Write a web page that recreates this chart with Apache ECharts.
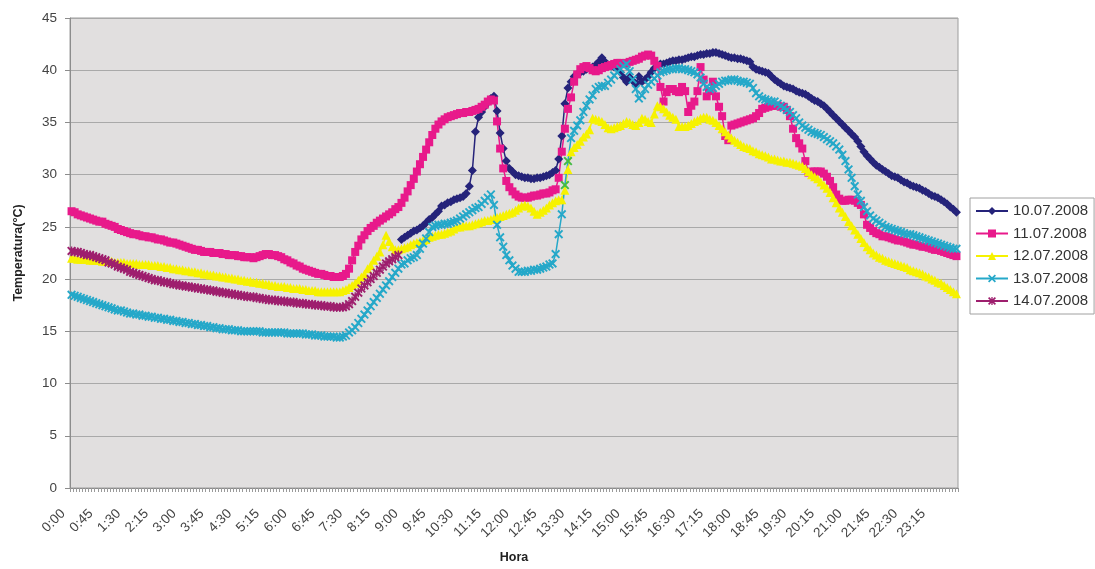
<!DOCTYPE html>
<html>
<head>
<meta charset="utf-8">
<title>Temperatura</title>
<script src="https://cdn.jsdelivr.net/npm/echarts@6/dist/echarts.min.js"></script>
<style>
  html, body { margin: 0; padding: 0; background: #ffffff; }
  #chart { width: 1095px; height: 569px; }
</style>
</head>
<body>
<div id="chart"></div>
<script>
// Readings every 5 minutes, 0:00 .. 23:55 (288 slots); one row per hour.
const hours = [];
for (let h = 0; h < 24; h++) {
  for (let m = 0; m < 60; m += 5) hours.push(h + ':' + (m < 10 ? '0' : '') + m);
}

const seriesNames = ['10.07.2008', '11.07.2008', '12.07.2008', '13.07.2008', '14.07.2008'];

// 10.07.2008: logging starts at 8:55
const t10 = [].concat(Array(107).fill(null), [
  23.8,
  24.0,24.2,24.4,24.6,24.7,24.9,25.1,25.4,25.7,25.9,26.2,26.5,
  27.0,27.1,27.3,27.4,27.6,27.7,27.8,27.9,28.2,28.9,30.4,34.1,
  35.5,36.0,36.5,36.9,37.3,37.5,36.1,34.0,32.5,31.3,30.6,30.3,
  30.0,29.9,29.8,29.7,29.7,29.6,29.6,29.7,29.7,29.8,29.9,30.0,
  30.2,30.4,31.5,33.7,36.8,38.3,38.9,39.4,39.6,39.8,39.9,40.1,
  40.2,40.3,40.5,40.8,41.2,40.8,40.5,40.4,40.3,40.3,39.8,39.3,
  38.9,39.3,39.0,38.7,39.4,38.9,39.1,39.4,39.8,40.2,40.4,40.6,
  40.6,40.7,40.8,40.9,40.9,41.0,41.0,41.1,41.2,41.3,41.3,41.4,
  41.5,41.5,41.6,41.6,41.7,41.7,41.6,41.5,41.4,41.3,41.2,41.2,
  41.1,41.1,41.0,40.9,40.8,40.3,40.1,40.0,39.9,39.8,39.7,39.4,
  39.1,38.9,38.7,38.5,38.4,38.3,38.2,38.0,37.9,37.8,37.7,37.5,
  37.3,37.1,37.0,36.8,36.6,36.3,36.0,35.7,35.4,35.1,34.8,34.5,
  34.2,33.9,33.6,33.2,32.7,32.2,31.8,31.5,31.2,30.9,30.7,30.5,
  30.3,30.1,29.9,29.8,29.7,29.5,29.3,29.2,29.0,28.9,28.8,28.7,
  28.5,28.4,28.2,28.0,27.9,27.8,27.6,27.4,27.2,26.9,26.7,26.4
]);

const t11 = [
  26.5,26.4,26.2,26.1,26.0,25.9,25.8,25.7,25.6,25.5,25.5,25.3,
  25.2,25.1,25.0,24.8,24.7,24.6,24.5,24.4,24.3,24.3,24.2,24.1,
  24.1,24.0,24.0,23.9,23.8,23.8,23.7,23.6,23.5,23.5,23.4,23.3,
  23.2,23.1,23.0,22.9,22.8,22.8,22.7,22.6,22.6,22.6,22.5,22.5,
  22.5,22.4,22.4,22.3,22.3,22.3,22.2,22.2,22.1,22.1,22.1,22.0,
  22.1,22.2,22.3,22.4,22.4,22.3,22.3,22.2,22.1,21.9,21.8,21.6,
  21.5,21.3,21.2,21.0,20.9,20.8,20.7,20.6,20.5,20.5,20.4,20.3,
  20.3,20.2,20.2,20.2,20.3,20.5,21.0,21.8,22.6,23.2,23.8,24.2,
  24.6,24.9,25.1,25.4,25.6,25.8,26.0,26.2,26.4,26.7,26.9,27.3,
  27.8,28.4,29.0,29.6,30.3,31.0,31.7,32.4,33.1,33.8,34.4,34.8,
  35.1,35.3,35.5,35.6,35.7,35.8,35.9,35.9,36.0,36.0,36.1,36.2,
  36.3,36.5,36.7,37.0,37.2,37.1,35.1,32.5,30.6,29.4,28.8,28.4,
  28.1,27.9,27.8,27.8,27.8,27.9,28.0,28.0,28.1,28.2,28.2,28.3,
  28.5,28.6,29.7,32.2,34.4,36.3,37.4,38.9,39.6,40.1,40.3,40.4,
  40.2,40.0,39.9,40.0,40.2,40.3,40.4,40.5,40.6,40.7,40.7,40.6,
  40.7,40.8,40.9,41.0,41.1,41.3,41.4,41.5,41.4,40.9,40.4,38.4,
  37.0,37.9,38.2,38.2,38.0,37.9,38.4,38.0,36.0,36.6,37.0,38.0,
  40.3,39.1,37.5,38.0,38.9,37.5,36.5,35.6,33.7,33.3,34.7,34.8,
  34.9,35.0,35.1,35.2,35.3,35.4,35.6,35.9,36.3,36.4,36.5,36.6,
  36.6,36.6,36.5,36.5,36.2,35.6,34.4,33.5,33.0,32.5,31.3,30.2,
  30.3,30.3,30.3,30.3,30.1,29.8,29.4,28.8,28.1,27.7,27.5,27.5,
  27.6,27.6,27.5,27.3,27.1,26.2,25.2,24.9,24.6,24.4,24.3,24.1,
  24.1,24.0,23.9,23.8,23.7,23.7,23.6,23.5,23.4,23.3,23.3,23.2,
  23.1,23.1,23.0,22.9,22.8,22.8,22.7,22.6,22.5,22.4,22.3,22.2
];

const t12 = [
  22.0,22.0,21.9,21.9,21.9,21.9,21.8,21.8,21.8,21.8,21.7,21.7,
  21.7,21.7,21.6,21.6,21.6,21.6,21.5,21.5,21.5,21.5,21.4,21.4,
  21.4,21.4,21.3,21.3,21.3,21.2,21.2,21.1,21.1,21.0,21.0,20.9,
  20.9,20.8,20.8,20.7,20.7,20.6,20.6,20.5,20.5,20.4,20.4,20.3,
  20.3,20.2,20.2,20.1,20.1,20.0,20.0,19.9,19.9,19.8,19.8,19.7,
  19.7,19.6,19.6,19.5,19.5,19.4,19.4,19.3,19.3,19.3,19.2,19.2,
  19.1,19.1,19.1,19.0,19.0,18.9,18.9,18.9,18.8,18.8,18.8,18.8,
  18.8,18.8,18.8,18.8,18.9,19.0,19.2,19.4,19.6,19.9,20.2,20.5,
  21.0,21.3,21.8,22.2,22.6,23.3,24.2,23.6,23.1,22.8,22.8,22.9,
  23.0,23.1,23.3,23.4,23.5,23.6,23.7,23.8,24.0,24.1,24.2,24.3,
  24.3,24.4,24.5,24.6,24.8,25.0,25.0,25.1,25.1,25.1,25.2,25.3,
  25.4,25.5,25.6,25.6,25.7,25.8,25.9,26.0,26.1,26.2,26.3,26.4,
  26.6,26.8,27.0,27.1,27.0,26.8,26.5,26.2,26.4,26.6,26.8,27.1,
  27.3,27.5,27.6,27.6,28.5,30.5,32.2,32.6,32.9,33.2,33.6,33.9,
  34.3,35.4,35.3,35.2,35.1,34.8,34.5,34.4,34.5,34.6,34.7,34.9,
  35.1,35.0,34.8,34.7,35.0,35.4,35.3,35.1,35.0,35.8,36.6,36.5,
  36.3,36.0,35.7,35.5,35.3,34.6,34.6,34.6,34.7,34.9,35.1,35.2,
  35.4,35.5,35.5,35.3,35.2,35.0,34.7,34.4,34.1,33.8,33.5,33.3,
  33.1,32.9,32.7,32.6,32.5,32.3,32.2,32.0,31.9,31.8,31.7,31.5,
  31.5,31.4,31.3,31.3,31.2,31.2,31.1,31.0,30.9,30.8,30.6,30.3,
  30.0,29.8,29.6,29.3,29.0,28.7,28.3,27.8,27.3,26.8,26.4,26.0,
  25.5,25.1,24.7,24.3,23.9,23.5,23.1,22.8,22.5,22.3,22.1,22.0,
  21.8,21.7,21.6,21.5,21.4,21.3,21.2,21.1,20.9,20.8,20.7,20.6,
  20.5,20.3,20.2,20.0,19.9,19.7,19.6,19.4,19.2,19.0,18.8,18.6
];

const t13 = [
  18.5,18.4,18.3,18.2,18.1,18.0,17.9,17.8,17.7,17.6,17.5,17.4,
  17.3,17.2,17.1,17.0,17.0,16.9,16.8,16.7,16.7,16.6,16.6,16.5,
  16.5,16.4,16.4,16.3,16.3,16.2,16.2,16.1,16.1,16.0,16.0,15.9,
  15.9,15.8,15.8,15.7,15.7,15.6,15.6,15.5,15.5,15.4,15.4,15.3,
  15.3,15.2,15.2,15.2,15.1,15.1,15.1,15.0,15.0,15.0,15.0,15.0,
  15.0,15.0,14.9,14.9,14.9,14.9,14.9,14.9,14.9,14.9,14.8,14.8,
  14.8,14.8,14.8,14.8,14.7,14.7,14.7,14.6,14.6,14.6,14.5,14.5,
  14.5,14.5,14.4,14.4,14.5,14.6,14.9,15.1,15.4,15.8,16.2,16.6,
  17.0,17.4,17.8,18.2,18.6,19.0,19.4,19.8,20.2,20.6,21.0,21.4,
  21.5,21.8,22.0,22.1,22.3,22.9,23.4,23.9,24.5,25.0,25.1,25.2,
  25.2,25.3,25.3,25.4,25.5,25.6,25.8,26.0,26.2,26.4,26.6,26.8,
  26.9,27.2,27.5,27.8,28.1,27.1,25.2,24.0,23.1,22.3,21.8,21.3,
  21.0,20.7,20.7,20.7,20.8,20.8,20.9,20.9,21.0,21.1,21.2,21.4,
  21.5,22.4,24.3,26.2,29.0,31.3,33.5,34.2,34.7,35.2,36.0,36.6,
  37.2,37.6,38.2,38.4,38.5,38.5,38.8,39.1,39.5,39.8,40.1,40.4,
  40.6,39.9,39.1,38.2,37.3,37.6,38.2,38.6,38.9,39.2,39.5,39.8,
  39.9,40.0,40.1,40.1,40.2,40.2,40.1,40.1,40.0,39.9,39.8,39.6,
  39.3,38.7,38.4,38.2,38.3,38.5,38.7,38.9,39.0,39.0,39.1,39.1,
  39.0,38.9,38.9,38.8,38.7,38.3,37.8,37.5,37.3,37.2,37.1,37.0,
  37.0,36.8,36.6,36.4,36.2,36.0,35.7,35.4,35.0,34.7,34.5,34.3,
  34.1,34.0,33.9,33.8,33.6,33.4,33.2,33.0,32.7,32.4,31.9,31.3,
  30.5,29.7,28.9,28.1,27.5,26.9,26.5,26.1,25.8,25.6,25.4,25.2,
  25.0,24.9,24.8,24.7,24.6,24.5,24.4,24.3,24.3,24.2,24.1,24.0,
  23.9,23.8,23.7,23.6,23.5,23.4,23.3,23.2,23.1,23.0,22.9,22.9
];
// two 13.07 readings during the 13:20 jump carry a green marker
const t13GreenPoints = [160, 161];

// 14.07.2008: logging ends at 8:50
const t14 = [
  22.7,22.6,22.6,22.5,22.4,22.3,22.3,22.2,22.1,22.0,21.9,21.8,
  21.6,21.5,21.4,21.2,21.1,21.0,20.9,20.7,20.6,20.5,20.4,20.3,
  20.2,20.1,20.0,19.9,19.9,19.8,19.7,19.7,19.6,19.5,19.5,19.4,
  19.4,19.3,19.3,19.2,19.2,19.1,19.1,19.0,19.0,18.9,18.9,18.8,
  18.8,18.7,18.7,18.6,18.6,18.5,18.5,18.4,18.4,18.3,18.3,18.3,
  18.2,18.2,18.1,18.1,18.0,18.0,18.0,17.9,17.9,17.9,17.8,17.8,
  17.8,17.7,17.7,17.7,17.6,17.6,17.6,17.5,17.5,17.5,17.4,17.4,
  17.4,17.3,17.3,17.3,17.3,17.4,17.6,17.9,18.3,18.7,19.1,19.4,
  19.7,20.0,20.3,20.6,20.9,21.2,21.5,21.7,21.9,22.1,22.3
];

const FONT = '"Liberation Sans", Arial, Helvetica, sans-serif';

// marker shapes (filled outlines)
const crossPath = 'path://M0,1.5L1.5,0L5,3.5L8.5,0L10,1.5L6.5,5L10,8.5L8.5,10L5,6.5L1.5,10L0,8.5L3.5,5Z';
const starPath = 'path://M0,1.5L1.5,0L5,3.5L8.5,0L10,1.5L6.5,5L10,8.5L8.5,10L5,6.5L1.5,10L0,8.5L3.5,5Z' +
                 'M4.2,0L5.8,0L5.8,10L4.2,10Z';

function makeSeries(name, data, color, symbol, size) {
  return {
    name: name,
    type: 'line',
    data: data,
    symbol: symbol,
    symbolSize: size,
    symbolKeepAspect: true,
    showAllSymbol: true,
    connectNulls: false,
    lineStyle: { color: color, width: 1.5 },
    itemStyle: { color: color },
    emphasis: { disabled: true },
    animation: false
  };
}

const s13 = makeSeries(seriesNames[3], t13.map(function (v, i) {
  return t13GreenPoints.indexOf(i) >= 0 ? { value: v, itemStyle: { color: '#44bb44' } } : v;
}), '#25a8c9', crossPath, 9);

const option = {
  backgroundColor: '#ffffff',
  animation: false,
  grid: {
    left: 70, right: 137, top: 18, bottom: 75,
    show: true, backgroundColor: '#e1dfdf', borderColor: '#9c9c9c', borderWidth: 1
  },
  xAxis: {
    type: 'category',
    data: hours,
    boundaryGap: true,
    name: 'Hora',
    nameLocation: 'middle',
    nameGap: 63,
    nameTextStyle: { fontFamily: FONT, fontSize: 12.5, fontWeight: 'bold', color: '#222' },
    axisLine: { lineStyle: { color: '#8c8c8c', width: 1 } },
    axisTick: { show: true, interval: 0, length: 4, lineStyle: { color: '#9a9a9a' } },
    axisLabel: {
      interval: 8, rotate: 45, margin: 15, padding: [0, 12, 0, 0],
      fontFamily: FONT, fontSize: 13.5, color: '#444'
    },
    splitLine: { show: false }
  },
  yAxis: {
    type: 'value',
    min: 0, max: 45, interval: 5,
    name: 'Temperatura(°C)',
    nameLocation: 'middle',
    nameGap: 45,
    nameTextStyle: { fontFamily: FONT, fontSize: 12.5, fontWeight: 'bold', color: '#222' },
    axisLine: { show: true, lineStyle: { color: '#8c8c8c', width: 1 } },
    axisTick: { show: true, length: 5, lineStyle: { color: '#8c8c8c' } },
    axisLabel: { margin: 13, fontFamily: FONT, fontSize: 13.5, color: '#444' },
    splitLine: { show: true, lineStyle: { color: '#a9a9a9', width: 1 } }
  },
  legend: {
    orient: 'vertical',
    left: 970, top: 198,
    backgroundColor: '#ffffff',
    borderColor: '#a0a0a0', borderWidth: 1,
    padding: [5, 6, 5, 5],
    itemWidth: 32, itemHeight: 10, itemGap: 6.5,
    textStyle: { fontFamily: FONT, fontSize: 15, color: '#333', lineHeight: 16 },
    data: seriesNames
  },
  series: [
    makeSeries(seriesNames[0], t10, '#25237a', 'diamond', 9),
    makeSeries(seriesNames[1], t11, '#e8198b', 'rect', 8),
    makeSeries(seriesNames[2], t12, '#f6f200', 'triangle', 9),
    s13,
    makeSeries(seriesNames[4], t14, '#9e1f6e', starPath, 9)
  ]
};

const chart = echarts.init(document.getElementById('chart'), null, { renderer: 'canvas' });
chart.setOption(option);
</script>
</body>
</html>
